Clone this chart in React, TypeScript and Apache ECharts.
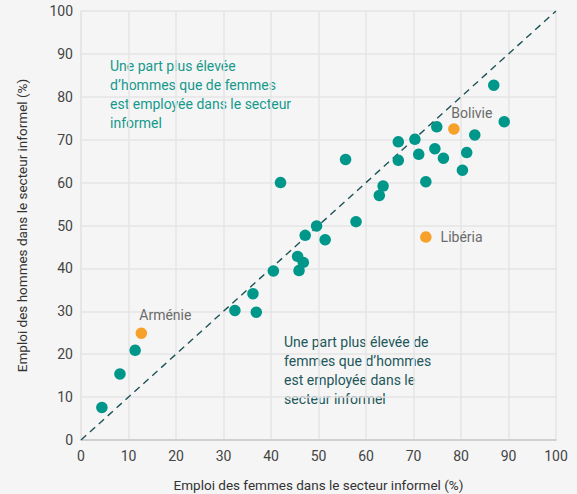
import React, { useEffect, useRef } from "react";
import * as echarts from "echarts";

const teal: [number, number][] = [
  [4.4, 7.6], [8.2, 15.4], [11.4, 20.9], [32.4, 30.2], [36.2, 34.1], [36.9, 29.8],
  [40.5, 39.4], [45.9, 39.5], [45.6, 42.8], [46.8, 41.4], [47.2, 47.7], [49.6, 49.9],
  [51.4, 46.7], [57.9, 50.9], [42.0, 60.0], [55.7, 65.4], [62.8, 57.0], [63.6, 59.2],
  [66.8, 65.2], [66.8, 69.5], [70.3, 70.1], [71.1, 66.6], [72.6, 60.2], [74.5, 67.9],
  [74.9, 73.0], [76.3, 65.7], [80.3, 62.9], [81.2, 67.0], [82.9, 71.1], [86.9, 82.7],
  [89.1, 74.2],
];

const highlightNames = ["Arménie", "Bolivie", "Libéria"];
const highlightValues: [number, number][] = [[12.7, 24.9], [78.5, 72.5], [72.6, 47.3]];

const diagonal: [number, number][] = [[0, 0], [100, 100]];

const xName = "Emploi des femmes dans le secteur informel (%)";
const yName = "Emploi des hommes dans le secteur informel (%)";
const noteTop = "Une part plus élevée\nd’hommes que de femmes\nest employée dans le secteur\ninformel";
const noteBottom = "Une part plus élevée de\nfemmes que d’hommes\nest employée dans le\nsecteur informel";

const FONT = "Roboto, 'Noto Sans', sans-serif";

export default function App() {
  const ref = useRef<HTMLDivElement>(null);
  useEffect(() => {
    if (!ref.current) return;
    const chart = echarts.init(ref.current, null, { renderer: "svg" });
    const labelPos: any[] = [
      { position: "top", offset: [24, 0] },
      { position: "top", offset: [18, 2] },
      { position: "right", distance: 9 },
    ];
    chart.setOption({
      animation: false,
      backgroundColor: "#f5f5f5",
      textStyle: { fontFamily: FONT },
      grid: { left: 81, right: 21, top: 11, bottom: 54, outerBoundsMode: "none", containLabel: false },
      xAxis: {
        type: "value",
        min: 0,
        max: 100,
        interval: 10,
        name: xName,
        nameLocation: "middle",
        nameGap: 38,
        nameTextStyle: { color: "#333", fontSize: 13.5, fontFamily: FONT },
        axisLine: { show: true, lineStyle: { color: "#c8c8c8", width: 1.5 } },
        axisTick: { show: false },
        axisLabel: { color: "#444", fontSize: 14, margin: 9, fontFamily: FONT },
        splitLine: { show: true, lineStyle: { color: "#e4e4e4", width: 1.5 } },
      },
      yAxis: {
        type: "value",
        min: 0,
        max: 100,
        interval: 10,
        name: yName,
        nameLocation: "middle",
        nameGap: 52,
        nameTextStyle: { color: "#333", fontSize: 13.5, fontFamily: FONT },
        axisLine: { show: true, lineStyle: { color: "#e4e4e4", width: 1.5 } },
        axisTick: { show: false },
        axisLabel: { color: "#444", fontSize: 14, margin: 8, fontFamily: FONT },
        splitLine: { show: true, lineStyle: { color: "#e4e4e4", width: 1.5 } },
      },
      series: [
        {
          type: "line",
          data: diagonal,
          symbol: "none",
          silent: true,
          lineStyle: { color: "#1b5356", width: 1.4, type: [7, 5] },
          z: 1,
        },
        {
          type: "scatter",
          data: teal,
          symbolSize: 11.5,
          itemStyle: { color: "#00978b", opacity: 1 },
          z: 3,
        },
        {
          type: "scatter",
          data: highlightValues.map((v, i) => ({
            value: v,
            name: highlightNames[i],
            label: { show: true, ...labelPos[i] },
          })),
          symbolSize: 11.5,
          itemStyle: { color: "#f5a12a", opacity: 1 },
          label: {
            formatter: "{b}",
            color: "#6b6b6b",
            fontSize: 14,
            fontFamily: FONT,
          },
          z: 4,
        },
      ],
      graphic: [
        {
          type: "text",
          left: 110,
          top: 56,
          style: {
            text: noteTop,
            fill: "#16998d",
            font: `14px ${FONT}`,
            lineHeight: 19,
          },
        },
        {
          type: "text",
          left: 284,
          top: 332,
          style: {
            text: noteBottom,
            fill: "#1d575a",
            font: `14px ${FONT}`,
            lineHeight: 19,
          },
        },
      ],
    });
    return () => chart.dispose();
  }, []);
  return (
    <div
      ref={ref}
      style={{ position: "absolute", left: 0, top: 0, width: 577, height: 494 }}
    />
  );
}
